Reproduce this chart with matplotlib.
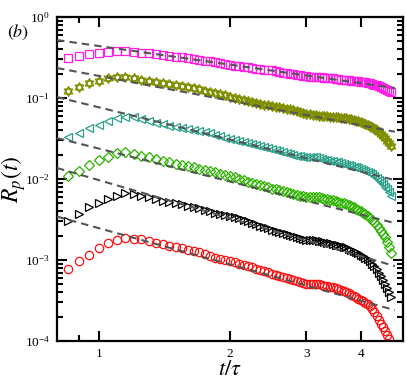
import matplotlib
matplotlib.use("Agg")
import matplotlib.pyplot as plt
import matplotlib.path as mpath
from matplotlib.ticker import FixedLocator, NullFormatter, LogLocator, FixedFormatter

plt.rcParams['mathtext.fontset'] = 'stix'
plt.rcParams['font.family'] = ['Liberation Serif', 'DejaVu Serif']

t = [0.85, 0.90, 0.95, 1.00, 1.05, 1.10, 1.15, 1.20, 1.25, 1.30, 1.35, 1.40, 1.45,
     1.50, 1.55, 1.60, 1.65, 1.70, 1.75, 1.80, 1.85, 1.90, 1.95, 2.00, 2.05, 2.10,
     2.15, 2.20, 2.25, 2.30, 2.35, 2.40, 2.45, 2.50, 2.55, 2.60, 2.65, 2.70, 2.75,
     2.80, 2.85, 2.90, 2.95, 3.00, 3.05, 3.10, 3.15, 3.20, 3.25, 3.30, 3.35, 3.40,
     3.45, 3.50, 3.55, 3.60, 3.65, 3.70, 3.75, 3.80, 3.85, 3.90, 3.95, 4.00, 4.05,
     4.10, 4.15, 4.20, 4.25, 4.30, 4.35, 4.40, 4.45, 4.50, 4.55, 4.60, 4.65, 4.70]

rp_square = [0.309, 0.330, 0.347, 0.362, 0.373, 0.380, 0.380, 0.370, 0.362, 0.356, 0.347, 0.340, 0.330,
             0.325, 0.318, 0.312, 0.305, 0.299, 0.290, 0.283, 0.275, 0.269, 0.262, 0.255, 0.251, 0.246,
             0.242, 0.239, 0.235, 0.231, 0.228, 0.225, 0.222, 0.219, 0.214, 0.210, 0.206, 0.202, 0.199,
             0.197, 0.195, 0.192, 0.188, 0.185, 0.184, 0.183, 0.183, 0.183, 0.181, 0.179, 0.178, 0.177,
             0.175, 0.173, 0.171, 0.169, 0.168, 0.167, 0.166, 0.164, 0.163, 0.162, 0.161, 0.160, 0.158,
             0.156, 0.155, 0.153, 0.150, 0.147, 0.144, 0.141, 0.138, 0.135, 0.131, 0.127, 0.123, 0.119]

rp_star = [0.122, 0.136, 0.152, 0.164, 0.178, 0.183, 0.183, 0.175, 0.167, 0.164, 0.156, 0.152, 0.148,
           0.145, 0.141, 0.136, 0.133, 0.129, 0.124, 0.120, 0.116, 0.111, 0.108, 0.104, 0.101, 0.0975,
           0.0946, 0.0918, 0.0891, 0.0867, 0.0849, 0.0830, 0.0813, 0.0796, 0.0782, 0.0767, 0.0755, 0.0741, 0.0724,
           0.0708, 0.0692, 0.0678, 0.0661, 0.0644, 0.0630, 0.0617, 0.0610, 0.0605, 0.0603, 0.0600, 0.0596, 0.0592,
           0.0586, 0.0582, 0.0577, 0.0571, 0.0566, 0.0561, 0.0552, 0.0545, 0.0536, 0.0527, 0.0516, 0.0506, 0.0495,
           0.0484, 0.0468, 0.0451, 0.0436, 0.0420, 0.0400, 0.0380, 0.0360, 0.0340, 0.0318, 0.0299, 0.0277, 0.0255]

rp_left = [0.0333, 0.0373, 0.0423, 0.0465, 0.0520, 0.0561, 0.0587, 0.0578, 0.0546, 0.0520, 0.0495, 0.0473, 0.0451,
           0.0439, 0.0429, 0.0418, 0.0407, 0.0397, 0.0381, 0.0366, 0.0351, 0.0337, 0.0324, 0.0312, 0.0303, 0.0294,
           0.0286, 0.0278, 0.0270, 0.0263, 0.0255, 0.0248, 0.0241, 0.0234, 0.0228, 0.0221, 0.0215, 0.0209, 0.0204,
           0.0199, 0.0194, 0.0190, 0.0188, 0.0187, 0.0187, 0.0187, 0.0185, 0.0182, 0.0178, 0.0174, 0.0172, 0.0169,
           0.0167, 0.0164, 0.0161, 0.0157, 0.0154, 0.0151, 0.0148, 0.0145, 0.0142, 0.0139, 0.0136, 0.0133, 0.0129,
           0.0126, 0.0122, 0.0119, 0.0114, 0.0109, 0.0103, 0.00973, 0.00918, 0.00867, 0.00809, 0.00753, 0.00684, 0.00617]

rp_diamond = [0.0109, 0.0126, 0.0149, 0.0172, 0.0188, 0.0207, 0.0214, 0.0204, 0.0194, 0.0185, 0.0177, 0.0168, 0.0161,
              0.0155, 0.0150, 0.0145, 0.0140, 0.0135, 0.0130, 0.0126, 0.0121, 0.0117, 0.0113, 0.0109, 0.0105, 0.0101,
              0.00971, 0.00933, 0.00900, 0.00867, 0.00839, 0.00813, 0.00789, 0.00764, 0.00745, 0.00726, 0.00710, 0.00692, 0.00675,
              0.00658, 0.00641, 0.00625, 0.00617, 0.00608, 0.00604, 0.00600, 0.00600, 0.00600, 0.00587, 0.00574, 0.00564, 0.00553,
              0.00545, 0.00535, 0.00524, 0.00512, 0.00501, 0.00491, 0.00475, 0.00461, 0.00447, 0.00433, 0.00417, 0.00403, 0.00385,
              0.00370, 0.00349, 0.00330, 0.00312, 0.00294, 0.00272, 0.00252, 0.00231, 0.00212, 0.00190, 0.00169, 0.00144, 0.00122]

rp_right = [0.00303, 0.00370, 0.00448, 0.00509, 0.00566, 0.00622, 0.00665, 0.00653, 0.00622, 0.00594, 0.00566, 0.00540, 0.00515,
            0.00506, 0.00488, 0.00471, 0.00454, 0.00439, 0.00420, 0.00403, 0.00385, 0.00370, 0.00362, 0.00354, 0.00340, 0.00327,
            0.00314, 0.00301, 0.00290, 0.00278, 0.00267, 0.00257, 0.00248, 0.00238, 0.00231, 0.00223, 0.00216, 0.00209, 0.00204,
            0.00198, 0.00192, 0.00187, 0.00183, 0.00179, 0.00178, 0.00177, 0.00175, 0.00174, 0.00171, 0.00167, 0.00164, 0.00161,
            0.00158, 0.00155, 0.00152, 0.00149, 0.00146, 0.00143, 0.00138, 0.00134, 0.00130, 0.00126, 0.00121, 0.00117, 0.00112,
            0.00107, 0.00102, 0.000973, 0.000906, 0.000843, 0.000769, 0.000701, 0.000631, 0.000566, 0.000506, 0.000451, 0.000398, 0.000349]

rp_circle = [0.000767, 0.000973, 0.00117, 0.00139, 0.00161, 0.00177, 0.00188, 0.00180, 0.00180, 0.00173, 0.00164, 0.00156, 0.00149,
             0.00145, 0.00139, 0.00134, 0.00129, 0.00124, 0.00118, 0.00112, 0.00107, 0.00102, 0.000998, 0.000973, 0.000940, 0.000906,
             0.000875, 0.000843, 0.000815, 0.000785, 0.000759, 0.000731, 0.000706, 0.000681, 0.000658, 0.000634, 0.000612, 0.000592, 0.000577,
             0.000562, 0.000548, 0.000535, 0.000524, 0.000513, 0.000509, 0.000506, 0.000504, 0.000501, 0.000492, 0.000484, 0.000475, 0.000467,
             0.000459, 0.000451, 0.000439, 0.000426, 0.000414, 0.000403, 0.000388, 0.000375, 0.000361, 0.000349, 0.000334, 0.000321, 0.000309,
             0.000299, 0.000284, 0.000270, 0.000248, 0.000228, 0.000203, 0.000182, 0.000164, 0.000149, 0.000133, 0.000119, 0.000106]

# dashed power-law guides: (t_start, t_end), (value_start, value_end)
fit_t = [0.80, 4.79]
fit_square = [0.520, 0.133]
fit_star = [0.235, 0.0384]
fit_left = [0.103, 0.00972]
fit_diamond = [0.0321, 0.00286]
fit_right = [0.0137, 0.000843]
fit_circle = [0.00344, 0.000241]

x_ticks = [1, 2, 3, 4]
x_ticklabels = ['1', '2', '3', '4']

# hexagram marker (two overlapping triangles)
P = mpath.Path
hexagram = P([(0, 1), (-0.866, -0.5), (0.866, -0.5), (0, 1),
              (0, -1), (-0.866, 0.5), (0.866, 0.5), (0, -1)],
             [P.MOVETO, P.LINETO, P.LINETO, P.CLOSEPOLY,
              P.MOVETO, P.LINETO, P.LINETO, P.CLOSEPOLY])

fig = plt.figure(figsize=(4.07, 3.88), dpi=100)
ax = fig.add_axes([0.140, 0.121, 0.850, 0.835])

series = [
    (rp_square, 's', '#ff1ee6', 5.8, t),
    (rp_star, hexagram, '#7f8f00', 7.0, t),
    (rp_left, '<', '#2aa088', 5.6, t),
    (rp_diamond, 'D', '#2db300', 5.0, t),
    (rp_right, '>', '#000000', 5.6, t),
    (rp_circle, 'o', '#ff1010', 6.0, t[:len(rp_circle)]),
]
for vals, mk, col, ms, tt in series:
    ax.plot(tt, vals, linestyle='none', marker=mk, markersize=ms,
            markerfacecolor='none', markeredgecolor=col, markeredgewidth=0.9, zorder=2)

for fv in [fit_square, fit_star, fit_left, fit_diamond, fit_right, fit_circle]:
    ax.plot(fit_t, fv, linestyle=(0, (3.6, 2.4)), color='#555555', linewidth=1.5, zorder=3)

ax.set_xscale('log')
ax.set_yscale('log')
ax.set_xlim(0.8, 5.0)
ax.set_ylim(1e-4, 1)

ax.xaxis.set_major_locator(FixedLocator(x_ticks))
ax.xaxis.set_major_formatter(FixedFormatter(x_ticklabels))
ax.xaxis.set_minor_locator(FixedLocator([0.9]))
ax.xaxis.set_minor_formatter(NullFormatter())
ax.yaxis.set_major_locator(LogLocator(base=10, numticks=10))
ax.yaxis.set_minor_locator(LogLocator(base=10, subs=range(2, 10), numticks=20))
ax.yaxis.set_minor_formatter(NullFormatter())

ax.tick_params(which='both', direction='in', top=True, right=True, width=1.5,
               labelsize=9.5, pad=5)
ax.tick_params(which='major', length=7)
ax.tick_params(which='minor', length=4)
for s in ax.spines.values():
    s.set_linewidth(1.6)

ax.set_xlabel(r'$t/\tau$', fontsize=16, labelpad=1)
ax.set_ylabel(r'$R_p(t)$', fontsize=17)
ax.yaxis.set_label_coords(-0.085, 0.5)
fig.text(0.018, 0.905, r'$(b)$', fontsize=13)

fig.savefig('out.png', dpi=100)
